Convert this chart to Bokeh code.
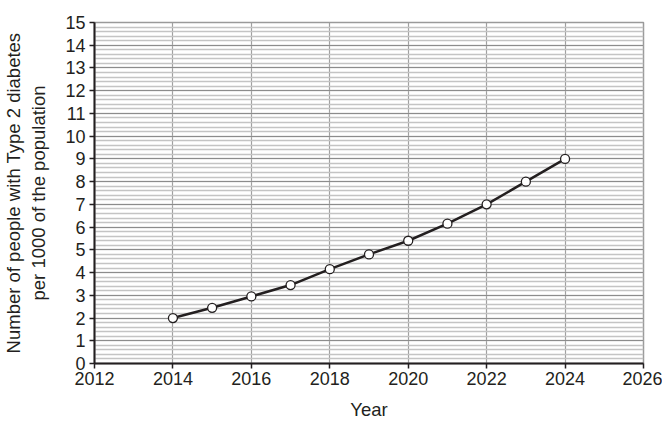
from bokeh.plotting import figure
from bokeh.models import Range1d, SingleIntervalTicker
from bokeh.embed import file_html
from bokeh.resources import INLINE

years = [2014, 2015, 2016, 2017, 2018, 2019, 2020, 2021, 2022, 2023, 2024]
cases = [2.0, 2.45, 2.95, 3.45, 4.15, 4.8, 5.4, 6.15, 7.0, 8.0, 9.0]

x_label = "Year"
y_label = "Number of people with Type 2 diabetes\nper 1000 of the population"

FONT = "Liberation Sans"
TXT = "#231f20"

p = figure(width=662, height=422, output_backend="svg", toolbar_location=None,
           x_range=Range1d(2012, 2026), y_range=Range1d(0, 15),
           min_border_left=94, min_border_right=19, min_border_top=22, min_border_bottom=51)

p.xaxis.ticker = SingleIntervalTicker(interval=2, num_minor_ticks=0)
p.yaxis.ticker = SingleIntervalTicker(interval=1, num_minor_ticks=5)

p.xgrid.grid_line_color = "#a0a0a0"
p.xgrid.grid_line_width = 1.2
p.ygrid.grid_line_color = "#8c8c8c"
p.ygrid.grid_line_width = 1.0
p.ygrid.minor_grid_line_color = "#c4c4c4"
p.ygrid.minor_grid_line_width = 1.6
p.outline_line_color = "#9a9a9a"
p.outline_line_width = 1.5

for ax in (p.xaxis[0], p.yaxis[0]):
    ax.axis_line_color = "#231f20"
    ax.axis_line_width = 2
    ax.major_tick_line_color = "#231f20"
    ax.major_tick_line_width = 1.5
    ax.major_tick_out = 5
    ax.major_tick_in = 0
    ax.minor_tick_line_color = None
    ax.major_label_text_font = FONT
    ax.major_label_text_font_size = "18px"
    ax.major_label_text_color = TXT
    ax.axis_label_text_font = FONT
    ax.axis_label_text_font_size = "18.5px"
    ax.axis_label_text_color = TXT
    ax.axis_label_text_font_style = "normal"

p.xaxis.axis_label = x_label
p.yaxis.axis_label = y_label
p.xaxis.major_label_standoff = 3
p.yaxis.major_label_standoff = 4
p.xaxis.axis_label_standoff = 11
p.yaxis.axis_label_standoff = 13

p.line(years, cases, line_color="#231f20", line_width=2.5)
p.scatter(years, cases, size=9, fill_color="white", line_color="#231f20", line_width=1.3)

open("out.html", "w").write(file_html(p, INLINE))
